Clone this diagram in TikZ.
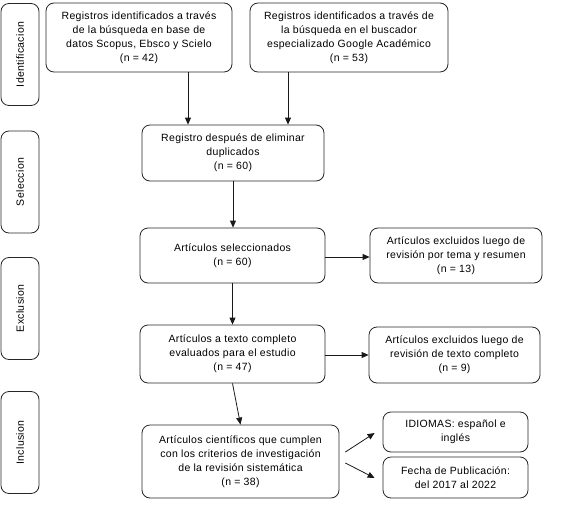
\documentclass[tikz,border=0pt]{standalone}
\usepackage{fontspec}
\setmainfont[LetterSpace=3]{Liberation Sans}
\usetikzlibrary{arrows.meta}
\begin{document}
\begin{tikzpicture}[x=1pt,y=-1pt,
  every node/.style={font=\fontsize{10.5}{14}\selectfont},
  box/.style={draw=black!85, line width=0.8pt, rounded corners=8pt, align=center, inner sep=0pt},
  side/.style={box, rotate=90, minimum width=102pt, minimum height=38pt},
  arr/.style={draw=black!90, line width=0.8pt, -{Triangle[length=7pt,width=6pt]}}]
\useasboundingbox (0,0) rectangle (567,514);
% side labels
\node[side] (sid) at (20,54.5) {Identificacion};
\node[side] (ssel) at (20,182) {Seleccion};
\node[side] (sexc) at (20,308.5) {Exclusion};
\node[side] (sinc) at (20,442.5) {Inclusion};
% main boxes
\node[box, minimum width=186pt, minimum height=69pt] (b1) at (139,37.5)
  {Registros identificados a través\\de la búsqueda en base de\\datos Scopus, Ebsco y Scielo\\(n = 42)};
\node[box, minimum width=198pt, minimum height=69pt] (b2) at (349,37.5)
  {Registros identificados a través de\\la búsqueda en el buscador\\especializado Google Académico\\(n = 53)};
\node[box, minimum width=182pt, minimum height=56pt] (b3) at (233,153)
  {Registro después de eliminar\\duplicados\\(n = 60)};
\node[box, minimum width=185pt, minimum height=55pt] (b4) at (232.5,255.5)
  {Artículos seleccionados\\(n = 60)};
\node[box, minimum width=172pt, minimum height=55pt] (b5) at (456,255.5)
  {Artículos excluidos luego de\\revisión por tema y resumen\\(n = 13)};
\node[box, minimum width=185pt, minimum height=58pt] (b6) at (232.5,354)
  {Artículos a texto completo\\evaluados para el estudio\\(n = 47)};
\node[box, minimum width=171pt, minimum height=56pt] (b7) at (454.5,355)
  {Artículos excluidos luego de\\revisión de texto completo\\(n = 9)};
\node[box, minimum width=197pt, minimum height=73pt] (b8) at (240.5,461.5)
  {Artículos científicos que cumplen\\con los criterios de investigación\\de la revisión sistemática\\(n = 38)};
\node[box, minimum width=145pt, minimum height=40pt] (b9) at (455.5,432)
  {IDIOMAS: español e\\inglés};
\node[box, minimum width=145pt, minimum height=41pt] (b10) at (455.5,477.5)
  {Fecha de Publicación:\\del 2017 al 2022};
% connectors
\draw[arr] ([xshift=49pt]b1.south) -- ([xshift=49pt]b1.south |- b3.north);
\draw[arr] ([xshift=-61pt]b2.south) -- ([xshift=-61pt]b2.south |- b3.north);
\draw[arr] (b3.south) -- (b3.south |- b4.north);
\draw[arr] ([yshift=-1.5pt]b4.east) -- ([yshift=-1.5pt]b4.east -| b5.west);
\draw[arr] (b4.south) -- (b4.south |- b6.north);
\draw[arr] ([yshift=-1pt]b6.east) -- ([yshift=-1pt]b6.east -| b7.west);
\draw[arr] (b6.south) -- (b8.north);
\draw[arr] ([shift={(6pt,9.5pt)}]b8.east) -- ([shift={(-8pt,-1pt)}]b9.west);
\draw[arr] ([shift={(6pt,-1.5pt)}]b8.east) -- ([shift={(-8pt,-0.5pt)}]b10.west);
\end{tikzpicture}
\end{document}
